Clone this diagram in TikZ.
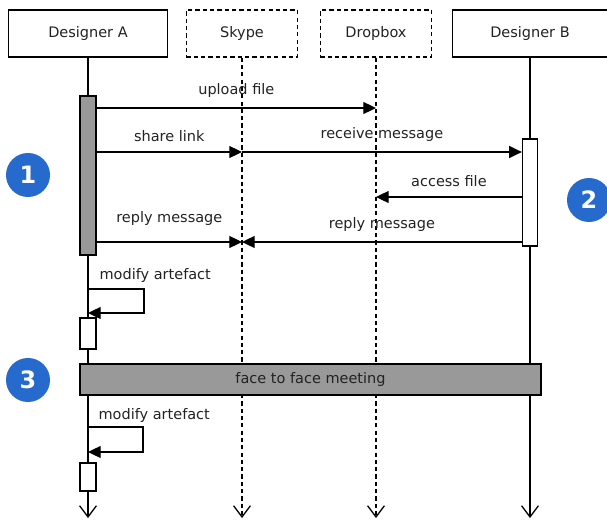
\documentclass[tikz,border=0pt]{standalone}
\usepackage{fontspec}
\setmainfont{DejaVu Sans}
\usetikzlibrary{arrows.meta}
\definecolor{stepblue}{RGB}{38,106,206}
\definecolor{bargray}{RGB}{153,153,153}
\definecolor{txtgray}{RGB}{34,34,34}

\begin{document}
\begin{tikzpicture}[x=0.025cm, y=-0.025cm, line width=0.9pt,
  font=\fontsize{10.3}{12}\selectfont,
  actor/.style={draw, fill=white, text=txtgray, minimum width=3.975cm, minimum height=1.175cm, inner sep=0pt},
  tool/.style={actor, dash pattern=on 3pt off 2.2pt, minimum width=2.775cm},
  actbar/.style={draw, fill=white, minimum width=0.4cm, inner sep=0pt},
  life/.style={-{Straight Barb[length=8pt, width=12pt]}},
  dotlife/.style={life, dash pattern=on 3pt off 2.2pt},
  msg/.style={-{Triangle[length=9pt, width=8.5pt]}},
  lbl/.style={text=txtgray, inner sep=0pt},
  stepnum/.style={circle, fill=stepblue, text=white, minimum size=1.1cm, inner sep=0pt, font=\fontsize{17}{17}\bfseries}]

\useasboundingbox (0,0) rectangle (607,520);

% heads
\node[actor] (desA) at (88,33.5) {Designer A};
\node[tool] (skype) at (242,33.5) {Skype};
\node[tool] (dropbox) at (376,33.5) {Dropbox};
\node[actor, minimum width=3.875cm] (desB) at (530,33.5) {Designer B};

\coordinate (endA) at (88,518);
\coordinate (endS) at (242,518);
\coordinate (endD) at (376,518);
\coordinate (endB) at (530,518);

% lifelines
\draw[life] (desA) -- (endA);
\draw[dotlife] (skype) -- (endS);
\draw[dotlife] (dropbox) -- (endD);
\draw[life] (desB) -- (endB);

% activations
\node[actbar, fill=bargray, minimum height=3.975cm] (actA) at (88,175.5) {};
\node[actbar, minimum width=0.375cm, minimum height=2.675cm] (actB) at (530,192.5) {};
\node[actbar, minimum height=0.775cm] (modA1) at (88,333.5) {};
\node[actbar, minimum height=0.7cm] (modA2) at (88,477) {};

% messages
\coordinate (up) at (376,108);
\coordinate (share) at (242,152);
\coordinate (acc) at (376,197);
\coordinate (rep) at (242,242);

\draw[msg] (actA.east |- up) -- node[lbl, above=7pt] {upload file} (up);
\draw[msg] (actA.east |- share) -- node[lbl, above=7pt] {share link} (share);
\draw[msg] (share) -- node[lbl, above=7pt] {receive message} (actB.west |- share);
\draw[msg] (actB.west |- acc) -- node[lbl, above=7pt] {access file} (acc);
\draw[msg] (actA.east |- rep) -- node[lbl, above=11pt] {reply message} (rep);
\draw[msg] (actB.west |- rep) -- node[lbl, above=7pt] {reply message} (rep);

% self messages
\coordinate (loop1a) at (144,289);
\coordinate (loop1b) at (144,313);
\draw[msg] (modA1.north |- loop1a) -- (loop1a) -- (loop1b) -- (modA1.north |- loop1b);
\node[lbl, anchor=west] (mod1) at (99,276) {modify artefact};

\coordinate (loop2a) at (143,427);
\coordinate (loop2b) at (143,452);
\draw[msg] (modA2.north |- loop2a) -- (loop2a) -- (loop2b) -- (modA2.north |- loop2b);
\node[lbl, anchor=west] (mod2) at (98,416) {modify artefact};

% meeting
\node[draw, fill=bargray, text=txtgray, minimum width=11.525cm, minimum height=0.775cm, inner sep=0pt] (meet) at (310.5,379.5) {face to face meeting};

% steps
\node[stepnum] (s1) at (28,175) {1};
\node[stepnum] (s2) at (589,200) {2};
\node[stepnum] (s3) at (28,380) {3};

\end{tikzpicture}
\end{document}
